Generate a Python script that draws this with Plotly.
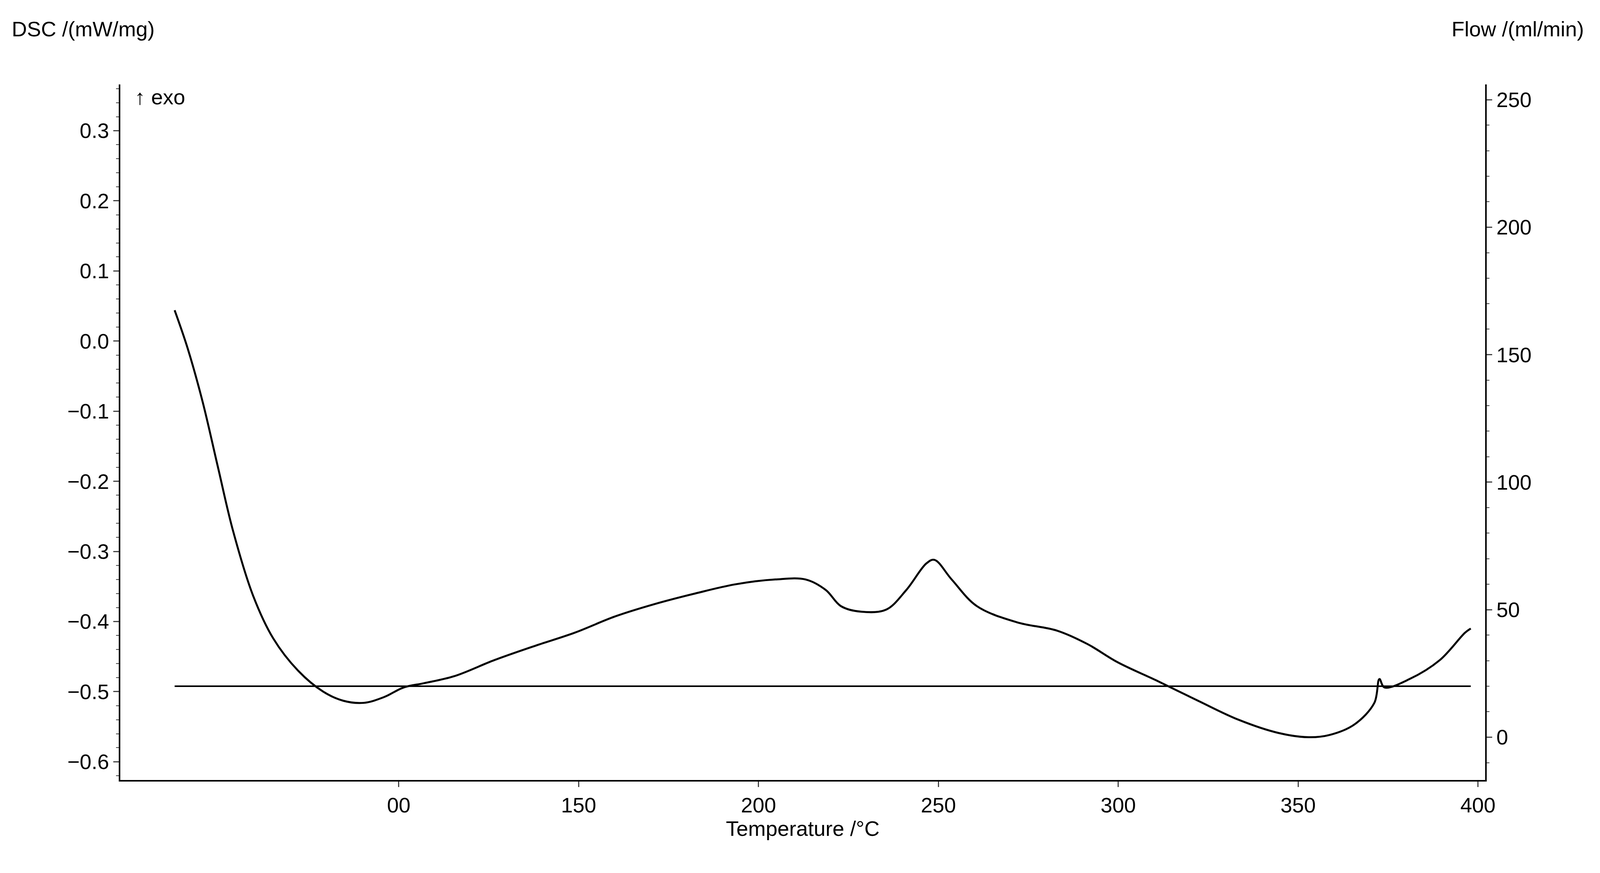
import plotly.graph_objects as go

temp = [37.7,41.3,45.5,49.7,53.9,59.5,65.1,72,79,84.6,90.2,95.8,101.4,107,115.4,126.6,137.7,148.9,160,171.2,182.4,193.5,204.7,213.1,218.7,222.9,228.5,235.5,241.1,246.7,248.9,253.7,260.7,271.8,283,291.4,299.8,311,322.2,333.4,344.6,353,358.6,365.6,371.2,372.6,374,381,389.4,396.4,398]
dsc = [0.044,-0.01,-0.087,-0.179,-0.27,-0.363,-0.424,-0.47,-0.50,-0.513,-0.516,-0.508,-0.494,-0.488,-0.478,-0.455,-0.435,-0.416,-0.393,-0.375,-0.36,-0.347,-0.340,-0.340,-0.355,-0.378,-0.386,-0.383,-0.355,-0.317,-0.312,-0.34,-0.378,-0.401,-0.413,-0.432,-0.458,-0.485,-0.513,-0.54,-0.559,-0.565,-0.562,-0.547,-0.516,-0.482,-0.494,-0.482,-0.455,-0.416,-0.41]
flow_t = [37.7,398]
flow = [20,20]
xtickvals = [100,150,200,250,300,350,400]
xticktext = ["00","150","200","250","300","350","400"]

F = dict(family="Liberation Sans, Arial", size=54, color="black")
fig = go.Figure()
fig.add_trace(go.Scatter(x=temp, y=dsc, mode="lines", line=dict(color="black", width=5, shape="spline"), showlegend=False))
fig.add_trace(go.Scatter(x=flow_t, y=flow, mode="lines", line=dict(color="black", width=4), yaxis="y2", showlegend=False))
ax = dict(showline=True, linecolor="black", linewidth=4, ticks="outside", ticklen=14, tickwidth=3, showgrid=False, zeroline=False, tickfont=F)
fig.update_layout(
    autosize=True, plot_bgcolor="white", paper_bgcolor="white",
    margin=dict(l=300, r=286, t=208, b=230),
    xaxis=dict(range=[22.6,402], tickvals=xtickvals, ticktext=xticktext, title=dict(text="Temperature /°C", font=F, standoff=5), **ax),
    yaxis=dict(range=[-0.626,0.366], tickvals=[-0.6,-0.5,-0.4,-0.3,-0.2,-0.1,0,0.1,0.2,0.3], tickformat=".1f",
               minor=dict(ticks="outside", ticklen=7, tickwidth=2, dtick=0.02), **ax),
    yaxis2=dict(overlaying="y", side="right", range=[-16.8,256], tickvals=[0,50,100,150,200,250],
                minor=dict(ticks="outside", ticklen=7, tickwidth=2, dtick=10), **ax),
    annotations=[
        dict(text="DSC /(mW/mg)", xref="paper", yref="paper", x=0, y=1, xshift=-280, yshift=110, xanchor="left", yanchor="bottom", showarrow=False, font=F),
        dict(text="Flow /(ml/min)", xref="paper", yref="paper", x=1, y=1, xshift=255, yshift=110, xanchor="right", yanchor="bottom", showarrow=False, font=F),
        dict(text="↑ exo", xref="paper", yref="paper", x=0.01, y=1.0, xanchor="left", yanchor="top", showarrow=False, font=F),
    ],
)
fig.write_html("out.html", default_width="100%", default_height="100%")
